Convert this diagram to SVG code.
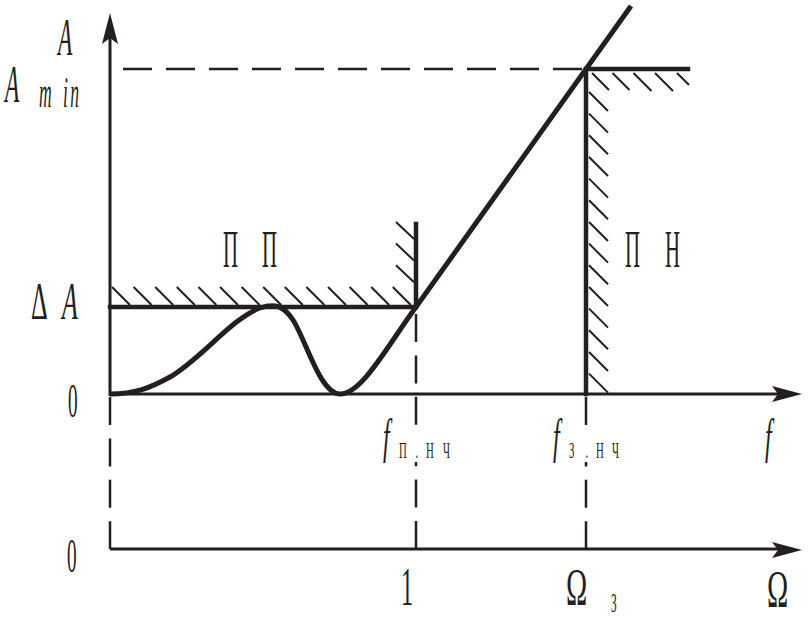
<svg xmlns="http://www.w3.org/2000/svg" width="810" height="617" viewBox="0 0 810 617">
<style>
.ax{stroke:#231f20;stroke-width:3;fill:none}
.thick{stroke:#231f20;stroke-width:4.5;fill:none;stroke-linecap:square}
.curve{stroke:#231f20;stroke-width:5;fill:none;stroke-linejoin:round}
.hatch{stroke:#231f20;stroke-width:2;fill:none}
.dash{stroke:#231f20;stroke-width:2.5;fill:none;stroke-dasharray:28 13.4}
.hd{stroke:#231f20;stroke-width:2.5;fill:none;stroke-dasharray:29 14}
.head{fill:#231f20}
text{font-family:"Liberation Serif","Times New Roman",serif;fill:#231f20}
.it{font-style:italic}
</style>
<rect width="810" height="617" fill="#fff"/>
<g id="guides">
<path class="hd" d="M123,69 H582"/>
<path class="dash" d="M110,397 V549"/>
<path class="dash" d="M416,314 V549"/>
<path class="dash" d="M586,397 V549"/>
</g>
<g id="axes">
<path class="ax" d="M110,396 V36"/>
<polygon class="head" points="110,13 118,44 110,38 102,44"/>
<path class="ax" d="M110,394 H780"/>
<polygon class="head" points="802,394 772,386 778,394 772,402"/>
<path class="ax" d="M110,549 H780"/>
<polygon class="head" points="802,550 772,542 778,550 772,558"/>
</g>
<g id="passband">
<path class="thick" d="M110,307 H416 V224"/>
<g class="hatch">
<path d="M112,287 l18,18 M133.6,287 l18,18 M155.2,287 l18,18 M176.8,287 l18,18 M198.4,287 l18,18 M220,287 l18,18 M241.6,287 l18,18 M263.2,287 l18,18 M284.8,287 l18,18 M306.4,287 l18,18 M328,287 l18,18 M349.6,287 l18,18 M371.2,287 l18,18 M392.8,287 l18,18"/>
<path d="M396,222 l18,17 M396,243.6 l18,17 M396,265.2 l18,17"/>
</g>
</g>
<g id="stopband">
<path class="thick" d="M586,394 V69 H688"/>
<g class="hatch">
<path d="M592,73 l17,17 M612.5,73 l17,17 M633.5,73 l18,18 M655,73 l18,18 M677,73 l12,12"/>
<path d="M589,92 l19,19 M589,113.6 l19,19 M589,135.3 l19,19 M589,157 l19,19 M589,178.6 l19,19 M589,200.3 l19,19 M589,222 l19,19 M589,243.6 l19,19 M589,265.3 l19,19 M589,287 l19,19 M589,308.6 l19,19 M589,330.3 l19,19 M589,352 l19,19 M589,373.6 l19,19"/>
</g>
</g>
<g id="response">
<path class="curve" d="M110,394 C135,394 150,388 170,377 C200,360 232,318 260,308 C275,303 284,306 293,320 C306,340 320,394 340,394 C362,394 388,345 416,307 L631,6"/>
</g>
<g id="labels">
<text class="it" font-size="52" transform="translate(58,55) scale(0.45,1)">A</text>
<text class="it" font-size="52" transform="translate(5,102) scale(0.45,1)">A</text>
<text class="it" font-size="44" transform="translate(39,107) scale(0.4,1)" x="0 60 78">min</text>
<text font-size="52" transform="translate(31,319) scale(0.5,1)" x="0 62">Δ<tspan class="it">A</tspan></text>
<text font-size="48" transform="translate(68,417) scale(0.4,1)">0</text>
<text font-size="48" transform="translate(67,572) scale(0.4,1)">0</text>
<text font-size="52" transform="translate(223,267) scale(0.4,1)" x="0 97.5">ПП</text>
<text font-size="52" transform="translate(625,267) scale(0.4,1)" x="0 100">ПН</text>
<rect x="396" y="437" width="60" height="25" fill="#fff"/>
<rect x="566" y="437" width="60" height="25" fill="#fff"/>
<text class="it" font-size="48" transform="translate(383,453) scale(0.5,1)">f</text>
<text font-size="24" transform="translate(399,458) scale(0.45,1)" x="0 36.7 60 97.8">П.НЧ</text>
<text class="it" font-size="48" transform="translate(553,453) scale(0.5,1)">f</text>
<text font-size="24" transform="translate(569,458) scale(0.45,1)" x="0 36.7 60 95.6">З.НЧ</text>
<text class="it" font-size="48" transform="translate(765,453) scale(0.5,1)">f</text>
<text font-size="54" transform="translate(401,605) scale(0.45,1)">1</text>
<text font-size="52" transform="translate(566,605) scale(0.55,1)">Ω</text>
<text font-size="27" transform="translate(611,612) scale(0.42,1)">З</text>
<text font-size="52" transform="translate(767,607) scale(0.55,1)">Ω</text>
</g>
</svg>
